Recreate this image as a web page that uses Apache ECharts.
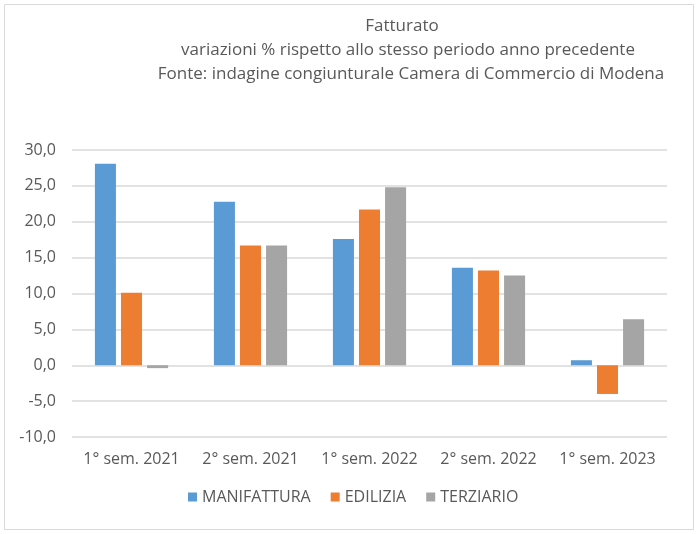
<!DOCTYPE html>
<html><head><meta charset="utf-8">
<script src="https://cdn.jsdelivr.net/npm/echarts@6/dist/echarts.min.js"></script>
<style>html,body{margin:0;padding:0;background:#fff}#c{width:699px;height:534px}</style>
</head><body><div id="c"></div>
<script>
const categories = ['1° sem. 2021', '2° sem. 2021', '1° sem. 2022', '2° sem. 2022', '1° sem. 2023'];
const manifattura = [28.1, 22.8, 17.6, 13.6, 0.7];
const edilizia = [10.1, 16.7, 21.7, 13.2, -4.0];
const terziario = [-0.4, 16.7, 24.8, 12.5, 6.4];
const seriesNames = ['MANIFATTURA', 'EDILIZIA', 'TERZIARIO'];
const colors = ['#5B9BD5', '#ED7D31', '#A5A5A5'];
const titleLines = ['Fatturato', 'variazioni % rispetto allo stesso periodo anno precedente', 'Fonte: indagine congiunturale Camera di Commercio di Modena'];

const font = '"Open Sans", sans-serif';
const txt = '#595959';
const chart = echarts.init(document.getElementById('c'));
const data = [manifattura, edilizia, terziario];
const tStyle = {fontFamily: font, fontSize: 17, fontWeight: 'normal', color: txt};
chart.setOption({
  animation: false,
  title: [
    {text: titleLines[0], left: 402, top: 18, textAlign: 'center', padding: 0, textStyle: tStyle},
    {text: titleLines[1], left: 408, top: 42, textAlign: 'center', padding: 0, textStyle: tStyle},
    {text: titleLines[2], left: 411, top: 66, textAlign: 'center', padding: 0, textStyle: tStyle}
  ],
  graphic: [{type: 'rect', shape: {x: 4.5, y: 4.5, width: 689, height: 525}, style: {fill: null, stroke: '#d9d9d9', lineWidth: 1}}],
  legend: {
    data: seriesNames, top: 489, left: 188, itemWidth: 9, itemHeight: 9, itemGap: 20,
    icon: 'rect', padding: 0,
    textStyle: {fontFamily: font, fontSize: 16, color: txt}
  },
  grid: {left: 72, right: 32, top: 150, bottom: 97, containLabel: false},
  xAxis: {
    type: 'category', data: categories,
    axisLine: {show: false}, axisTick: {show: false},
    axisLabel: {fontFamily: font, fontSize: 16, color: txt, margin: 14, interval: 0}
  },
  yAxis: {
    type: 'value', min: -10, max: 30, interval: 5,
    axisLabel: {fontFamily: font, fontSize: 16, color: txt, margin: 16, formatter: v => v.toFixed(1).replace('.', ',')},
    splitLine: {lineStyle: {color: '#d9d9d9', width: 1.5}},
    axisLine: {show: false}, axisTick: {show: false}
  },
  series: seriesNames.map((n, i) => ({
    name: n, type: 'bar', data: data[i], itemStyle: {color: colors[i]},
    barGap: '24%', barCategoryGap: '38.5%'
  }))
});
</script></body></html>
